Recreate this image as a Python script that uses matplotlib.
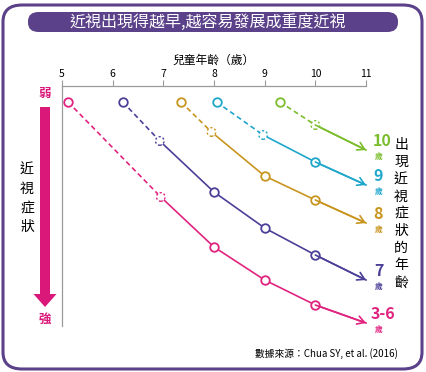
import matplotlib.pyplot as plt
from matplotlib.patches import FancyBboxPatch, FancyArrow

plt.rcParams['font.family'] = ['Noto Sans CJK TC', 'DejaVu Sans']

# severity: 0 = mild (top), larger = stronger (down)
ages = ['3-6', '7', '8', '9', '10']
colors = ['#e0237f', '#4b3f98', '#c8951f', '#1fa6cb', '#7cbd2d']
xs = [
    [5.12, 6.95, 8, 9, 10, 11],
    [6.2, 6.93, 8, 9, 10, 11],
    [7.35, 7.95, 9, 10, 11],
    [8.05, 8.97, 10, 11],
    [9.3, 10, 11],
]
ys = [
    [16, 111, 161, 194, 219, 237],
    [16, 55, 106, 142, 169, 194],
    [16, 46, 90, 114, 137],
    [16, 49, 76, 99],
    [16, 39, 64],
]
xticks = [5, 6, 7, 8, 9, 10, 11]

W, H = 426, 372
fig = plt.figure(figsize=(W / 100, H / 100), dpi=100)
fig.patch.set_facecolor('white')

purple = '#5b4189'
# outer rounded frame
frame = FancyBboxPatch((3 / W, 3 / H), 419 / W, 364 / H,
                       boxstyle='round,pad=0,rounding_size=0.045',
                       transform=fig.transFigure, fc='none', ec=purple, lw=2.2)
fig.patches.append(frame)
# title pill
pill = FancyBboxPatch((28 / W, (H - 32) / H), 370 / W, 20 / H,
                      boxstyle='round,pad=0,rounding_size=0.025',
                      transform=fig.transFigure, fc=purple, ec='none')
fig.patches.append(pill)
fig.text(208 / W, 1 - 22 / H, '近視出現得越早,越容易發展成重度近視', color='white',
         fontsize=11.5, ha='center', va='center')

ax = fig.add_axes([62 / W, 1 - 326 / H, 304 / W, 240 / H])
ax.set_xlim(5, 11)
ax.set_ylim(240, 0)
for s in ['right', 'bottom']:
    ax.spines[s].set_visible(False)
for s in ['top', 'left']:
    ax.spines[s].set_color('#9a9a9a')
    ax.spines[s].set_linewidth(0.9)
ax.xaxis.tick_top()
ax.set_xticks(xticks)
ax.set_xticklabels([str(t) for t in xticks], fontsize=7.5)
ax.tick_params(axis='x', length=4, color='#9a9a9a', pad=1)
ax.set_yticks([])
ax.set_xlabel('兒童年齡（歲）', fontsize=8.5)
ax.xaxis.set_label_position('top')
ax.xaxis.labelpad = 4

for x, y, c in zip(xs, ys, colors):
    ax.plot(x[:2], y[:2], color=c, lw=1.2, ls=(0, (3, 2)), clip_on=False)
    ax.plot(x[1:], y[1:], color=c, lw=1.2, clip_on=False)
    ax.scatter(x[0], y[0], s=38, facecolors='white', edgecolors=c,
               linewidths=1.3, zorder=3, clip_on=False)
    ax.scatter(x[1], y[1], s=38, facecolors='white', edgecolors=c,
               linewidths=1.0, linestyles=(0, (1.5, 1.5)), zorder=3, clip_on=False)
    if len(x) > 3:
        ax.scatter(x[2:-1], y[2:-1], s=38, facecolors='white', edgecolors=c,
                   linewidths=1.3, zorder=3, clip_on=False)
    ax.annotate('', xy=(x[-1], y[-1]), xytext=(x[-2], y[-2]),
                arrowprops=dict(arrowstyle='->,head_length=0.5,head_width=0.3',
                                color=c, lw=1.2, shrinkA=0, shrinkB=0),
                annotation_clip=False)

# age labels at arrow ends
for a, y, c in zip(ages, ys, colors):
    dx = {'10': 11.5, '3-6': 12}.get(a, 9)
    ax.annotate(a, xy=(11, y[-1]), xytext=(dx, 0.5),
                textcoords='offset points', ha='center', va='bottom',
                fontsize=11.5, color=c, fontweight='bold',
                annotation_clip=False)
    ax.annotate('歲', xy=(11, y[-1]), xytext=(9, -1.5), textcoords='offset points',
                ha='center', va='top', fontsize=5.5, color=c, fontweight='bold',
                annotation_clip=False)

# right vertical label
for i, ch in enumerate('出現近視症狀的年齡'):
    fig.text(401 / W, 1 - (145 + i * 17.2) / H, ch, fontsize=10,
             ha='center', va='center')

# left severity arrow
pink = '#d9187a'
fig.text(45 / W, 1 - 93 / H, '弱', color=pink, fontsize=9, fontweight='bold',
         ha='center', va='center')
fig.text(45 / W, 1 - 319 / H, '強', color=pink, fontsize=9, fontweight='bold',
         ha='center', va='center')
arr = FancyArrow(45 / W, 1 - 107 / H, 0, -(200 / H), width=10 / W,
                 head_width=23 / W, head_length=13 / H,
                 length_includes_head=True, transform=fig.transFigure,
                 fc=pink, ec='none')
fig.patches.append(arr)
for i, ch in enumerate('近視症狀'):
    fig.text(27 / W, 1 - (170 + i * 19) / H, ch, fontsize=10,
             ha='center', va='center')

fig.text(398 / W, 1 - 354 / H, '數據來源：Chua SY, et al. (2016)', fontsize=7,
         ha='right', va='center')

fig.savefig('out.png', dpi=100)
